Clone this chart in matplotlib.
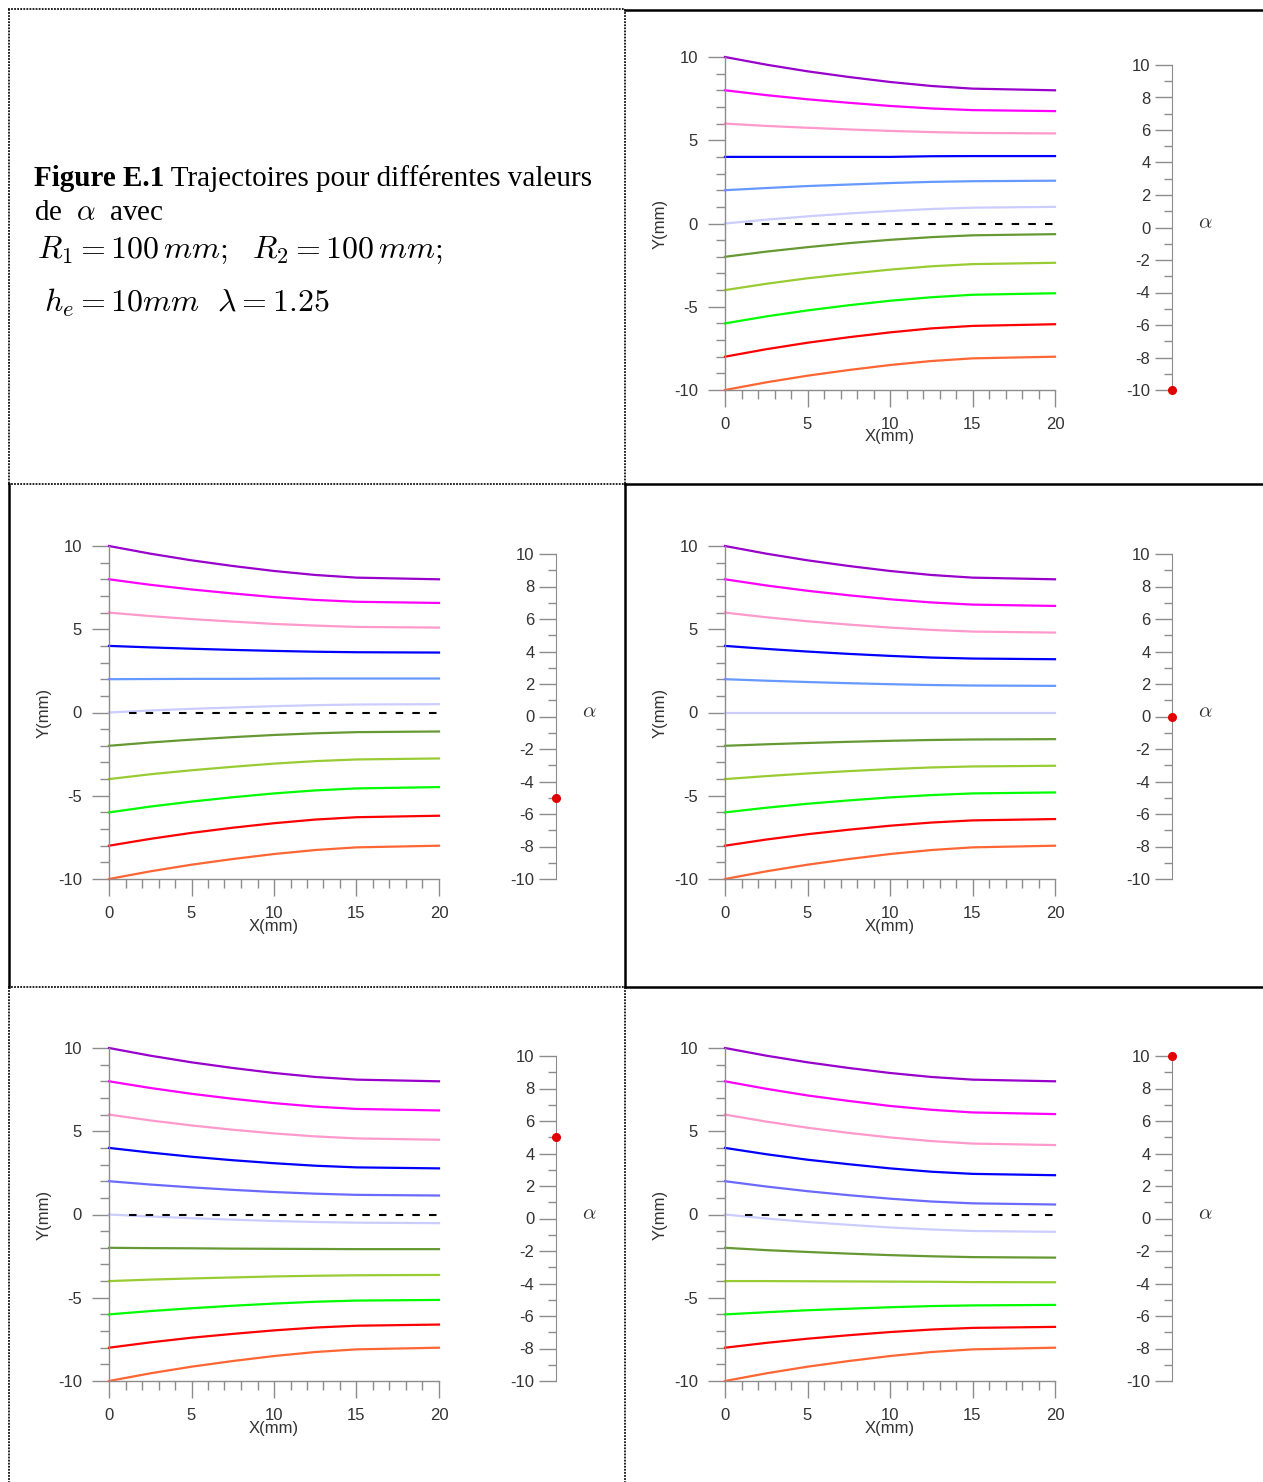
import numpy as np
import matplotlib.pyplot as plt
from matplotlib.ticker import MultipleLocator

plt.rcParams['axes.unicode_minus'] = False
plt.rcParams['font.family'] = ['Liberation Sans', 'DejaVu Sans']

W, H = 1263, 1482

# trajectories: y(mm) at these x(mm), one row per starting height
x_mm = [0, 2.5, 5, 7.5, 10, 12.5, 15, 20]
colors = ['#9900cc', '#ff00ff', '#ff99cc', '#0000ff', '#6699ff', '#ccccff',
          '#669933', '#99cc33', '#00ff00', '#ff0000', '#ff6633']
alphas = [-10, -5, 0, 5, 10]

y_alpha_m10 = [
    [10, 9.54, 9.14, 8.8, 8.5, 8.26, 8.1, 8.0],
    [8, 7.71, 7.46, 7.25, 7.06, 6.91, 6.81, 6.75],
    [6, 5.86, 5.75, 5.65, 5.56, 5.49, 5.44, 5.41],
    [4, 4.0, 4.0, 4.0, 4.0, 4.04, 4.05, 4.05],
    [2, 2.13, 2.25, 2.34, 2.43, 2.5, 2.54, 2.57],
    [0, 0.23, 0.43, 0.6, 0.75, 0.87, 0.95, 1.0],
    [-2, -1.69, -1.42, -1.18, -0.98, -0.82, -0.71, -0.64],
    [-4, -3.62, -3.29, -3.02, -2.77, -2.57, -2.44, -2.36],
    [-6, -5.58, -5.22, -4.91, -4.64, -4.43, -4.28, -4.19],
    [-8, -7.55, -7.16, -6.83, -6.54, -6.30, -6.15, -6.05],
    [-10, -9.54, -9.14, -8.8, -8.5, -8.26, -8.1, -8.0],
]
y_alpha_m5 = [
    [10, 9.54, 9.14, 8.8, 8.5, 8.26, 8.1, 8.0],
    [8, 7.67, 7.39, 7.15, 6.93, 6.76, 6.65, 6.58],
    [6, 5.79, 5.61, 5.46, 5.32, 5.22, 5.14, 5.1],
    [4, 3.91, 3.83, 3.76, 3.7, 3.65, 3.62, 3.6],
    [2, 2.01, 2.02, 2.02, 2.03, 2.04, 2.04, 2.04],
    [0, 0.12, 0.22, 0.3, 0.38, 0.44, 0.48, 0.5],
    [-2, -1.8, -1.63, -1.48, -1.35, -1.25, -1.18, -1.14],
    [-4, -3.71, -3.47, -3.26, -3.07, -2.92, -2.82, -2.76],
    [-6, -5.65, -5.35, -5.09, -4.86, -4.68, -4.56, -4.48],
    [-8, -7.59, -7.23, -6.92, -6.65, -6.43, -6.29, -6.2],
    [-10, -9.54, -9.14, -8.8, -8.5, -8.26, -8.1, -8.0],
]
y_alpha_0 = [
    [10, 9.54, 9.14, 8.8, 8.5, 8.26, 8.1, 8.0],
    [8, 7.63, 7.31, 7.04, 6.8, 6.61, 6.48, 6.4],
    [6, 5.72, 5.48, 5.28, 5.1, 4.96, 4.86, 4.8],
    [4, 3.82, 3.66, 3.52, 3.4, 3.3, 3.24, 3.2],
    [2, 1.91, 1.83, 1.76, 1.7, 1.65, 1.62, 1.6],
    [0, 0, 0, 0, 0, 0, 0, 0],
    [-2, -1.91, -1.83, -1.76, -1.7, -1.65, -1.62, -1.6],
    [-4, -3.82, -3.66, -3.52, -3.4, -3.3, -3.24, -3.2],
    [-6, -5.72, -5.48, -5.28, -5.1, -4.96, -4.86, -4.8],
    [-8, -7.63, -7.31, -7.04, -6.8, -6.61, -6.48, -6.4],
    [-10, -9.54, -9.14, -8.8, -8.5, -8.26, -8.1, -8.0],
]
y_alpha_p5 = [
    [10, 9.54, 9.14, 8.8, 8.5, 8.26, 8.1, 8.0],
    [8, 7.6, 7.25, 6.95, 6.69, 6.48, 6.34, 6.25],
    [6, 5.65, 5.35, 5.09, 4.87, 4.69, 4.57, 4.49],
    [4, 3.72, 3.47, 3.26, 3.08, 2.93, 2.83, 2.77],
    [2, 1.8, 1.63, 1.48, 1.35, 1.25, 1.18, 1.14],
    [0, -0.12, -0.22, -0.31, -0.39, -0.45, -0.49, -0.52],
    [-2, -2.02, -2.03, -2.05, -2.06, -2.07, -2.08, -2.08],
    [-4, -3.91, -3.84, -3.78, -3.72, -3.68, -3.65, -3.63],
    [-6, -5.8, -5.63, -5.48, -5.35, -5.24, -5.17, -5.13],
    [-8, -7.68, -7.4, -7.17, -6.96, -6.79, -6.68, -6.61],
    [-10, -9.54, -9.14, -8.8, -8.5, -8.26, -8.1, -8.0],
]
y_alpha_p10 = [
    [10, 9.54, 9.14, 8.8, 8.5, 8.26, 8.1, 8.0],
    [8, 7.55, 7.15, 6.82, 6.52, 6.29, 6.13, 6.03],
    [6, 5.58, 5.21, 4.9, 4.63, 4.41, 4.26, 4.17],
    [4, 3.62, 3.29, 3.02, 2.77, 2.57, 2.44, 2.36],
    [2, 1.68, 1.4, 1.16, 0.95, 0.78, 0.67, 0.6],
    [0, -0.24, -0.45, -0.62, -0.78, -0.9, -0.99, -1.04],
    [-2, -2.14, -2.25, -2.35, -2.44, -2.51, -2.56, -2.59],
    [-4, -4.0, -4.01, -4.02, -4.03, -4.04, -4.06, -4.07],
    [-6, -5.87, -5.75, -5.66, -5.57, -5.5, -5.46, -5.43],
    [-8, -7.71, -7.46, -7.25, -7.06, -6.91, -6.81, -6.75],
    [-10, -9.54, -9.14, -8.8, -8.5, -8.26, -8.1, -8.0],
]
trajectories = [y_alpha_m10, y_alpha_m5, y_alpha_0, y_alpha_p5, y_alpha_p10]

fig = plt.figure(figsize=(W / 100, H / 100), dpi=100)

# background layer in pixel units: table borders and caption
bg = fig.add_axes([0, 0, 1, 1], zorder=-1)
bg.set_xlim(0, W)
bg.set_ylim(H, 0)
bg.axis('off')

dot = dict(color='#111111', lw=1.3, ls=(0, (1, 0.7)))
solid = dict(color='black', lw=1.8)
bg.plot([8, 625], [9, 9], **dot)
bg.plot([625, W], [10, 10], **solid)
for yy in (484, 987):
    bg.plot([8, 625], [yy, yy], **dot)
    bg.plot([625, W], [yy, yy], **solid)
for xx in (9, 625):
    bg.plot([xx, xx], [9, 484], **dot)
    bg.plot([xx, xx], [484, 987], **solid)
    bg.plot([xx, xx], [987, H], **dot)

t1 = bg.text(34, 186, 'Figure E.1', fontsize=21, fontweight='bold',
             family='Liberation Serif', va='baseline')
bg.annotate(' Trajectoires pour différentes valeurs', xy=(1, 0), xycoords=t1,
            fontsize=21, family='Liberation Serif', va='bottom')
bg.text(34, 220, r'de  $\alpha$  avec', fontsize=21, family='Liberation Serif',
        math_fontfamily='cm', va='baseline')
bg.text(37, 258, r'$R_1 = 100\,mm;\ \ R_2 = 100\,mm;$', fontsize=23,
        math_fontfamily='cm', va='baseline')
bg.text(44, 312, r'$h_e = 10mm\ \ \lambda = 1.25$', fontsize=23,
        math_fontfamily='cm', va='baseline')

# (axes left px, axes top px, slider x px)
cells = [(725, 57, 1172), (109, 546, 556), (725, 546, 1172),
         (109, 1048, 556), (725, 1048, 1172)]

grey = '#8c8c8c'
txt = '#333333'

for alpha, ys, (left, top, sx) in zip(alphas, trajectories, cells):
    ax = fig.add_axes([left / W, 1 - (top + 333) / H, 330 / W, 333 / H])
    ax.set_facecolor('none')
    cols = list(colors)
    if alpha > 0:
        cols[4] = '#6a6aff'
    for y, c in zip(ys, cols):
        ax.plot(x_mm, y, color=c, lw=1.6, clip_on=False)
    if alpha != 0:
        ax.plot([1.2, 20], [0, 0], color='black', lw=1.5, ls=(0, (3.6, 4.4)))
    ax.set_xlim(0, 20)
    ax.set_ylim(-10, 10)
    for s in ('top', 'right'):
        ax.spines[s].set_visible(False)
    for s in ('left', 'bottom'):
        ax.spines[s].set_color(grey)
        ax.spines[s].set_linewidth(1.0)
    ax.xaxis.set_major_locator(MultipleLocator(5))
    ax.xaxis.set_minor_locator(MultipleLocator(1))
    ax.yaxis.set_major_locator(MultipleLocator(5))
    ax.yaxis.set_minor_locator(MultipleLocator(1))
    ax.tick_params(which='major', length=12.5, width=1, color=grey,
                   labelsize=12, labelcolor=txt, pad=7)
    ax.tick_params(which='minor', length=6.5, width=1, color=grey)
    ax.text(0.5, -47 / 333, 'X(mm)', transform=ax.transAxes, ha='center',
            va='center', fontsize=12, color=txt)
    ax.text(-65 / 330, 0.5, 'Y(mm)', transform=ax.transAxes, ha='center',
            va='center', rotation=90, fontsize=12, color=txt)

    # alpha slider
    sax = fig.add_axes([sx / W, 1 - (top + 333) / H, 1 / W, 325 / H])
    sax.set_facecolor('none')
    sax.set_xlim(0, 1)
    sax.set_ylim(-10, 10)
    for s in ('top', 'right', 'bottom'):
        sax.spines[s].set_visible(False)
    sax.spines['left'].set_color(grey)
    sax.set_xticks([])
    sax.yaxis.set_major_locator(MultipleLocator(2))
    sax.yaxis.set_minor_locator(MultipleLocator(1))
    sax.tick_params(which='major', length=12.5, width=1, color=grey,
                    labelsize=12, labelcolor=txt, pad=3)
    sax.tick_params(which='minor', length=6, width=1, color=grey)
    sax.plot([0], [alpha], 'o', color='#e00000', ms=5.5, clip_on=False, zorder=5)
    bg.text(sx + 33, top + 166, r'$\alpha$', fontsize=15, math_fontfamily='cm',
            color=txt, ha='center', va='center')

fig.savefig('out.png', dpi=100)
